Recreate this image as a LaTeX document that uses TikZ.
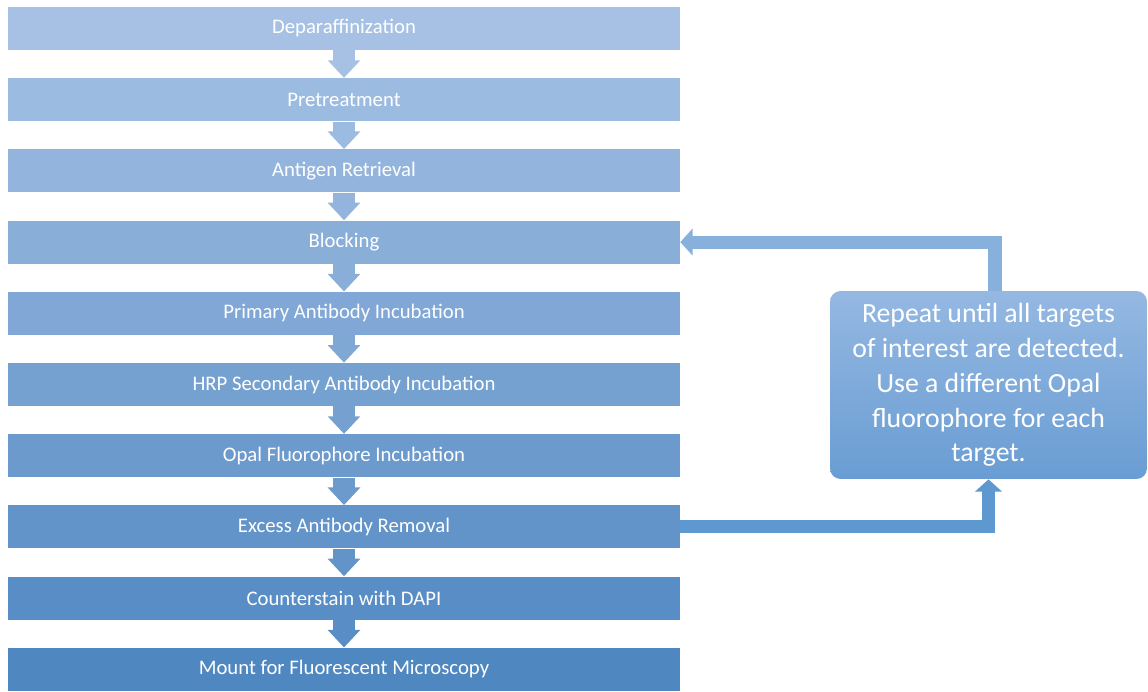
\documentclass[tikz,border=0pt]{standalone}
\usepackage{fontspec}
\setmainfont{Carlito}
\usetikzlibrary{arrows.meta}

\definecolor{stageLight}{HTML}{A6C1E4}
\definecolor{stageDark}{HTML}{4F87C1}
\definecolor{noteTop}{HTML}{95B8E2}
\definecolor{noteBot}{HTML}{699DD3}
\definecolor{loopBack}{HTML}{88B0DD}
\definecolor{loopOut}{HTML}{5E98D0}

\begin{document}
\begin{tikzpicture}[
        x=0.02cm, y=-0.02cm,
        stage/.style={rectangle, minimum width=13.44cm, minimum height=0.86cm,
            inner sep=0pt, text=white, font=\fontsize{11.8}{14}\selectfont},
        flow/.style={line width=13pt, -{Triangle[width=18pt, length=10pt]}},
        backflow/.style={line width=7.5pt, line join=miter, -{Triangle[width=15pt, length=7pt]}},
        note/.style={rectangle, rounded corners=6pt, minimum width=6.34cm,
            minimum height=3.76cm, align=center, text=white,
            font=\fontsize{15.8}{19.8}\selectfont}
    ]

        \useasboundingbox (0,0) rectangle (1148,692);

        % Protocol steps
        \node[stage, fill=stageDark!0!stageLight]   (s1)  at (344,28.5)  {Deparaffinization};
        \node[stage, fill=stageDark!11!stageLight]  (s2)  at (344,99.7)  {Pretreatment};
        \node[stage, fill=stageDark!22!stageLight]  (s3)  at (344,170.9) {Antigen Retrieval};
        \node[stage, fill=stageDark!33!stageLight]  (s4)  at (344,242.1) {Blocking};
        \node[stage, fill=stageDark!44!stageLight]  (s5)  at (344,313.3) {Primary Antibody Incubation};
        \node[stage, fill=stageDark!56!stageLight]  (s6)  at (344,384.5) {HRP Secondary Antibody Incubation};
        \node[stage, fill=stageDark!67!stageLight]  (s7)  at (344,455.7) {Opal Fluorophore Incubation};
        \node[stage, fill=stageDark!78!stageLight]  (s8)  at (344,526.9) {Excess Antibody Removal};
        \node[stage, fill=stageDark!89!stageLight]  (s9)  at (344,598.1) {Counterstain with DAPI};
        \node[stage, fill=stageDark!100!stageLight] (s10) at (344,669.3) {Mount for Fluorescent Microscopy};

        % Arrows between steps
        \draw[flow, stageDark!0!stageLight]  (s1) -- (s2);
        \draw[flow, stageDark!11!stageLight] (s2) -- (s3);
        \draw[flow, stageDark!22!stageLight] (s3) -- (s4);
        \draw[flow, stageDark!33!stageLight] (s4) -- (s5);
        \draw[flow, stageDark!44!stageLight] (s5) -- (s6);
        \draw[flow, stageDark!56!stageLight] (s6) -- (s7);
        \draw[flow, stageDark!67!stageLight] (s7) -- (s8);
        \draw[flow, stageDark!78!stageLight] (s8) -- (s9);
        \draw[flow, stageDark!89!stageLight] (s9) -- (s10);

        % Repeat note
        \node[note, top color=noteTop, bottom color=noteBot] (note) at (988.5,385) {
            Repeat until all targets\\
            of interest are detected.\\
            Use a different Opal\\
            fluorophore for each\\
            target.
        };

        % Loop back
        \draw[backflow, loopOut] (s8.east) -| (note.south);
        \draw[backflow, loopBack] ([xshift=0.13cm]note.north) |- (s4.east);

    \end{tikzpicture}
\end{document}
